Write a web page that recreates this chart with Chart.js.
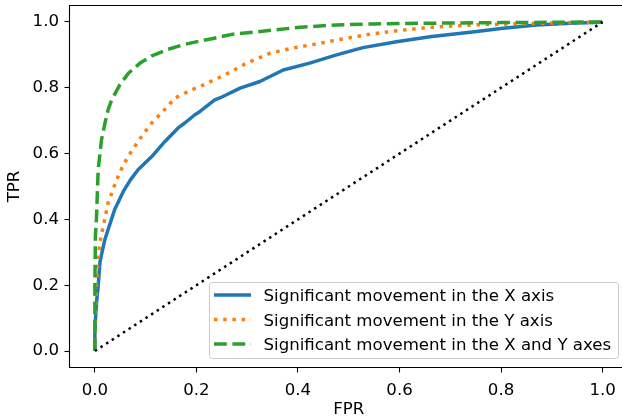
<!DOCTYPE html>
<html>
<head>
<meta charset="utf-8">
<title>ROC curves</title>
<script src="https://cdn.jsdelivr.net/npm/chart.js@4.4.1/dist/chart.umd.min.js"></script>
<style>
  html, body { margin: 0; padding: 0; overflow: hidden; background: #fff; }
  canvas { display: block; }
</style>
</head>
<body>
<canvas id="roc" width="630" height="419"></canvas>
<script>
// ROC curves for the three movement detectors
const xFprX = [0, 0.000, 0.002, 0.004, 0.0065, 0.0098, 0.014, 0.0197, 0.026, 0.039, 0.056, 0.070, 0.085, 0.112, 0.138, 0.164, 0.177, 0.197, 0.207, 0.236, 0.246, 0.286, 0.325, 0.371, 0.423, 0.476, 0.528, 0.594, 0.660, 0.752, 0.804, 0.870, 0.936, 0.998, 1.0];
const xTprX = [0, 0.06, 0.12, 0.16, 0.197, 0.268, 0.30, 0.339, 0.369, 0.43, 0.485, 0.52, 0.551, 0.591, 0.637, 0.678, 0.693, 0.718, 0.728, 0.763, 0.769, 0.799, 0.819, 0.854, 0.875, 0.900, 0.922, 0.940, 0.955, 0.971, 0.981, 0.991, 0.996, 0.999, 1.0];

const yFprY = [0, 0.001, 0.003, 0.0065, 0.012, 0.016, 0.026, 0.043, 0.056, 0.072, 0.092, 0.112, 0.131, 0.158, 0.184, 0.213, 0.256, 0.299, 0.345, 0.394, 0.443, 0.476, 0.542, 0.594, 0.660, 0.745, 0.85, 1.0];
const yTprY = [0, 0.10, 0.197, 0.293, 0.349, 0.374, 0.450, 0.521, 0.566, 0.607, 0.652, 0.693, 0.723, 0.769, 0.789, 0.808, 0.839, 0.875, 0.905, 0.922, 0.935, 0.945, 0.963, 0.973, 0.984, 0.991, 0.995, 1.0];

const xyFpr = [0, 0.000, 0.001, 0.003, 0.0065, 0.013, 0.020, 0.026, 0.033, 0.049, 0.066, 0.089, 0.112, 0.144, 0.177, 0.210, 0.233, 0.272, 0.338, 0.404, 0.476, 0.55, 0.65, 0.8, 1.0];
const xyTpr = [0, 0.20, 0.35, 0.40, 0.551, 0.642, 0.693, 0.733, 0.763, 0.809, 0.844, 0.875, 0.897, 0.917, 0.932, 0.943, 0.950, 0.963, 0.973, 0.984, 0.991, 0.994, 0.996, 0.998, 1.0];

const chanceFpr = [0, 1];
const chanceTpr = [0, 1];

const xTicks = [0, 0.2, 0.4, 0.6, 0.8, 1.0];
const yTicks = [0, 0.2, 0.4, 0.6, 0.8, 1.0];

const seriesLabels = [
  'Significant movement in the X axis',
  'Significant movement in the Y axis',
  'Significant movement in the X and Y axes'
];

function toPoints(xs, ys) {
  return xs.map((x, i) => ({ x: x, y: ys[i] }));
}

const FONT = 'DejaVu Sans';
const FONT_SIZE = 16.6;

Chart.defaults.font.family = FONT;
Chart.defaults.font.size = FONT_SIZE;
Chart.defaults.color = '#000';

// left, top and bottom spines; the right one falls outside the page
const frame = {
  id: 'frame',
  beforeDatasetsDraw(chart) {
    const { ctx, chartArea: a } = chart;
    ctx.save();
    ctx.strokeStyle = '#000';
    ctx.lineWidth = 1.1;
    ctx.beginPath();
    ctx.moveTo(a.right, a.top);
    ctx.lineTo(a.left, a.top);
    ctx.lineTo(a.left, a.bottom);
    ctx.lineTo(a.right, a.bottom);
    ctx.stroke();
    ctx.restore();
  }
};

// legend box in the lower right corner
const cornerLegend = {
  id: 'cornerLegend',
  afterDraw(chart) {
    const ctx = chart.ctx;
    const items = chart.data.datasets.filter(ds => ds.label);
    const box = { x: 209.5, y: 282.5, w: 409, h: 76 };
    ctx.save();
    ctx.beginPath();
    ctx.roundRect(box.x, box.y, box.w, box.h, 3);
    ctx.fillStyle = 'rgba(255,255,255,0.8)';
    ctx.fill();
    ctx.strokeStyle = '#cccccc';
    ctx.lineWidth = 1;
    ctx.stroke();

    const rows = [295, 319.5, 344];
    items.forEach((ds, i) => {
      const y = rows[i];
      ctx.beginPath();
      ctx.setLineDash(ds.borderDash || []);
      ctx.lineCap = 'butt';
      ctx.strokeStyle = ds.borderColor;
      ctx.lineWidth = ds.borderWidth;
      ctx.moveTo(214, y);
      ctx.lineTo(251, y);
      ctx.stroke();
      ctx.setLineDash([]);
      ctx.fillStyle = '#000';
      ctx.font = FONT_SIZE + 'px "' + FONT + '"';
      ctx.textBaseline = 'alphabetic';
      ctx.textAlign = 'left';
      ctx.fillText(ds.label, 263.5, y + 6);
    });
    ctx.restore();
  }
};

const line = (label, xs, ys, color, dash, width, order) => ({
  label: label,
  data: toPoints(xs, ys),
  borderColor: color,
  backgroundColor: color,
  borderWidth: width,
  borderDash: dash,
  borderCapStyle: 'butt',
  borderJoinStyle: 'round',
  pointRadius: 0,
  tension: 0,
  fill: false,
  order: order
});

new Chart(document.getElementById('roc'), {
  type: 'line',
  data: {
    datasets: [
      line(seriesLabels[0], xFprX, xTprX, '#1f77b4', [], 3.5, 4),
      line(seriesLabels[1], yFprY, yTprY, '#ff7f0e', [3.5, 5.7], 3.5, 3),
      line(seriesLabels[2], xyFpr, xyTpr, '#2ca02c', [12.8, 5.6], 3.5, 2),
      line(undefined, chanceFpr, chanceTpr, '#000000', [2.5, 4.2], 2.5, 1)
    ]
  },
  options: {
    responsive: false,
    devicePixelRatio: 1,
    animation: false,
    events: [],
    layout: { padding: { top: 5.5, right: 2, left: 0, bottom: 0 } },
    plugins: {
      legend: { display: false },
      tooltip: { enabled: false }
    },
    scales: {
      x: {
        type: 'linear',
        min: -0.05,
        max: 1.05,
        afterBuildTicks: s => { s.ticks = xTicks.map(v => ({ value: v })); },
        afterFit: s => {
          s.height = 51.5;
          s.paddingLeft = 0;
          s.paddingRight = 0;
        },
        ticks: {
          color: '#000',
          padding: 8,
          maxRotation: 0,
          autoSkip: false,
          callback: v => v.toFixed(1)
        },
        grid: {
          drawOnChartArea: false,
          drawTicks: true,
          tickLength: 5,
          tickColor: '#000',
          tickWidth: 1.1
        },
        border: { display: false },
        title: { display: true, text: 'FPR', color: '#000', padding: { top: 0, bottom: -1 } }
      },
      y: {
        type: 'linear',
        min: -0.05,
        max: 1.05,
        afterBuildTicks: s => { s.ticks = yTicks.map(v => ({ value: v })); },
        afterFit: s => {
          s.width = 69.5;
          s.paddingTop = 0;
          s.paddingBottom = 0;
        },
        ticks: {
          color: '#000',
          padding: 5.5,
          autoSkip: false,
          callback: v => v.toFixed(1)
        },
        grid: {
          drawOnChartArea: false,
          drawTicks: true,
          tickLength: 5,
          tickColor: '#000',
          tickWidth: 1.1
        },
        border: { display: false },
        title: { display: true, text: 'TPR', color: '#000', padding: { top: 5, bottom: 0 } }
      }
    }
  },
  plugins: [frame, cornerLegend]
});
</script>
</body>
</html>
